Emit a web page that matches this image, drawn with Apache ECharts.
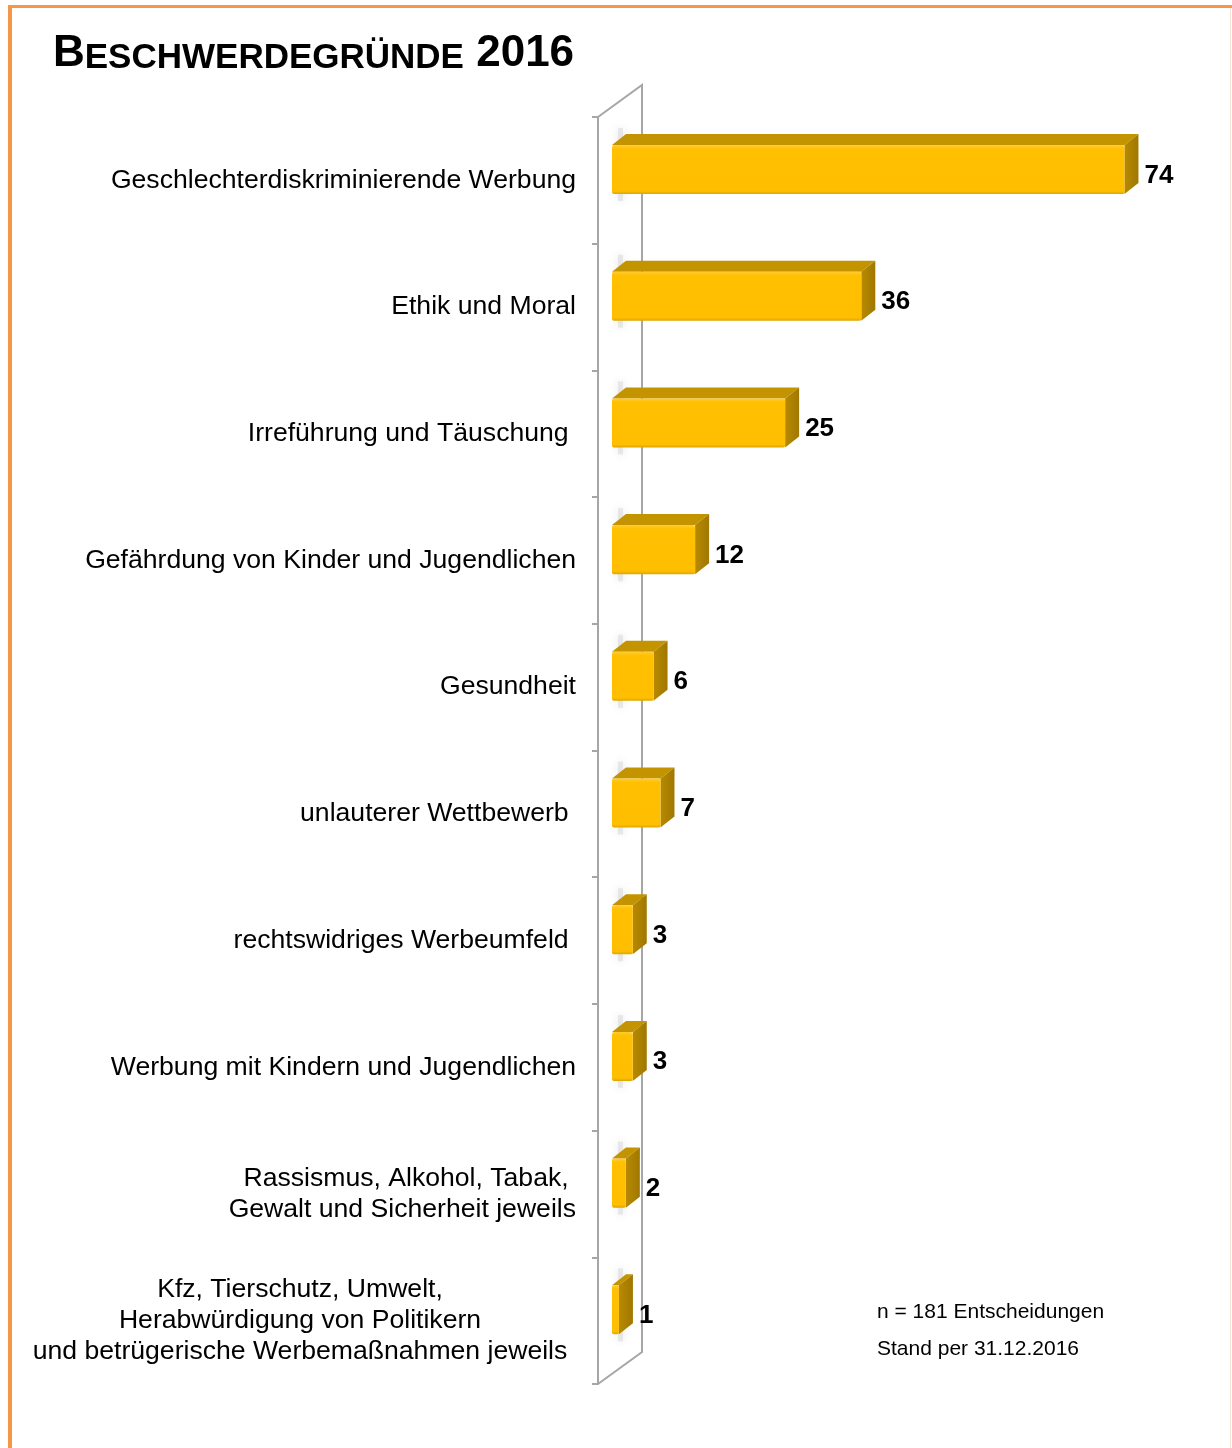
<!DOCTYPE html>
<html>
<head>
<meta charset="utf-8">
<script src="https://cdn.jsdelivr.net/npm/echarts@6/dist/echarts.min.js"></script>
<style>
  html, body { margin: 0; padding: 0; background: #fff; }
  #chart { width: 1232px; height: 1448px; }
</style>
</head>
<body>
<div id="chart"></div>
<script>
// Beschwerdegründe 2016 – 3D-Balken (Excel-Stil) mit custom series
const categories = [
  'Geschlechterdiskriminierende Werbung',
  'Ethik und Moral',
  'Irreführung und Täuschung ',
  'Gefährdung von Kinder und Jugendlichen',
  'Gesundheit',
  'unlauterer Wettbewerb ',
  'rechtswidriges Werbeumfeld ',
  'Werbung mit Kindern und Jugendlichen',
  'Rassismus, Alkohol, Tabak, \nGewalt und Sicherheit jeweils',
  'Kfz, Tierschutz, Umwelt,\nHerabwürdigung von Politikern\nund betrügerische Werbemaßnahmen jeweils',
];
const values = [74, 36, 25, 12, 6, 7, 3, 3, 2, 1];
const footnotes = ['n = 181 Entscheidungen', 'Stand per 31.12.2016'];

const FONT = "'Liberation Sans', Arial, sans-serif";
const DX = 14;   // Tiefe der Balken nach rechts
const DY = 11;   // Tiefe der Balken nach oben

const chart = echarts.init(document.getElementById('chart'), null, { renderer: 'canvas' });

// Rückwand: schräge Kanten oben/unten + senkrechte Linie hinten
function renderWall(params) {
  const cs = params.coordSys;
  const x = cs.x - 14, top = cs.y, bottom = cs.y + cs.height;
  return {
    type: 'polyline',
    silent: true,
    shape: {
      points: [[x, top], [x + 44, top - 32], [x + 44, bottom - 32], [x, bottom]],
    },
    style: { stroke: '#a6a6a6', lineWidth: 2, fill: null },
  };
}

function renderBar(params, api) {
  const v = api.value(0);
  const idx = api.value(1);
  const p0 = api.coord([0, idx]);
  const p1 = api.coord([v, idx]);
  const band = api.size([0, 1])[1];
  const h = band * 0.387;
  const top = p0[1] - band * 0.279;
  const x0 = p0[0], x1 = p1[0];
  return {
    type: 'group',
    children: [
      {
        // weicher Schatten auf der Rückwand
        type: 'rect',
        shape: { x: x0 + 6, y: top - 17, width: 5, height: h + 24 },
        style: { fill: 'rgba(200,200,200,0.35)', shadowBlur: 9, shadowColor: 'rgba(150,150,150,0.7)' },
      },
      {
        type: 'polygon',
        shape: { points: [[x0, top], [x0 + DX, top - DY], [x1 + DX, top - DY], [x1, top]] },
        style: { fill: '#c49400' },
      },
      {
        type: 'polygon',
        shape: { points: [[x1, top], [x1 + DX, top - DY], [x1 + DX, top - DY + h], [x1, top + h]] },
        style: {
          fill: new echarts.graphic.LinearGradient(0, 0, 1, 0, [
            { offset: 0, color: '#b88a00' },
            { offset: 1, color: '#a07800' },
          ]),
        },
      },
      {
        type: 'rect',
        shape: { x: x0, y: top, width: x1 - x0, height: h, r: 2 },
        style: {
          fill: new echarts.graphic.LinearGradient(0, 0, 0, 1, [
            { offset: 0, color: '#ffcc33' },
            { offset: 0.08, color: '#ffc000' },
            { offset: 0.94, color: '#ffbf00' },
            { offset: 1, color: '#dba500' },
          ]),
        },
      },
      {
        type: 'text',
        style: {
          x: x1 + DX + 6,
          y: p0[1] - 5,
          text: String(v),
          font: 'bold 26px ' + FONT,
          fill: '#000',
          align: 'left',
          verticalAlign: 'middle',
        },
      },
    ],
  };
}

chart.setOption({
  backgroundColor: '#fff',
  animation: false,
  grid: { left: 612, right: 66, top: 117, bottom: 64 },
  xAxis: { type: 'value', min: 0, max: 80, show: false },
  yAxis: {
    type: 'category',
    data: categories,
    inverse: true,
    offset: 14,
    axisLine: { onZero: false, lineStyle: { color: '#a6a6a6', width: 2 } },
    axisTick: { show: true, length: 6, lineStyle: { color: '#a6a6a6', width: 2 } },
    splitLine: { show: false },
    axisLabel: {
      margin: 22,
      color: '#000',
      fontFamily: FONT,
      fontSize: 26.6,
      lineHeight: 31,
      formatter: (val, i) => {
        if (i !== categories.length - 1) return val;
        return val.split('\n').map((l) => '{c|' + l + '}').join('\n');
      },
      rich: {
        c: { width: 552, align: 'center', fontSize: 26.6, lineHeight: 31, fontFamily: FONT, color: '#000' },
      },
    },
  },
  series: [
    {
      type: 'custom',
      silent: true,
      data: [[0, 0]],
      renderItem: renderWall,
      z: 1,
    },
    {
      type: 'custom',
      silent: true,
      data: values.map((v, i) => [v, i]),
      encode: { x: 0, y: 1 },
      renderItem: renderBar,
      z: 2,
    },
  ],
  graphic: [
    // Rahmen
    { type: 'line', shape: { x1: 8, y1: 6.5, x2: 1232, y2: 6.5 }, style: { stroke: '#f79646', lineWidth: 3 } },
    { type: 'line', shape: { x1: 10, y1: 5, x2: 10, y2: 1448 }, style: { stroke: '#f79646', lineWidth: 4 } },
    { type: 'line', shape: { x1: 1230.5, y1: 8, x2: 1230.5, y2: 1448 }, style: { stroke: '#f3e4d8', lineWidth: 1 } },
    {
      type: 'text',
      left: 53,
      top: 32,
      style: {
        text: '{a|B}{b|ESCHWERDEGRÜNDE}{a| 2016}',
        rich: {
          a: { font: 'bold 44px ' + FONT, fill: '#000', lineHeight: 48, verticalAlign: 'bottom' },
          b: { font: 'bold 35px ' + FONT, fill: '#000', lineHeight: 48, verticalAlign: 'bottom' },
        },
      },
    },
    {
      type: 'text',
      left: 877,
      top: 1302,
      style: { text: footnotes[0], font: '21px ' + FONT, fill: '#000' },
    },
    {
      type: 'text',
      left: 877,
      top: 1339,
      style: { text: footnotes[1], font: '21px ' + FONT, fill: '#000' },
    },
  ],
});

window.addEventListener('resize', () => chart.resize());
</script>
</body>
</html>
